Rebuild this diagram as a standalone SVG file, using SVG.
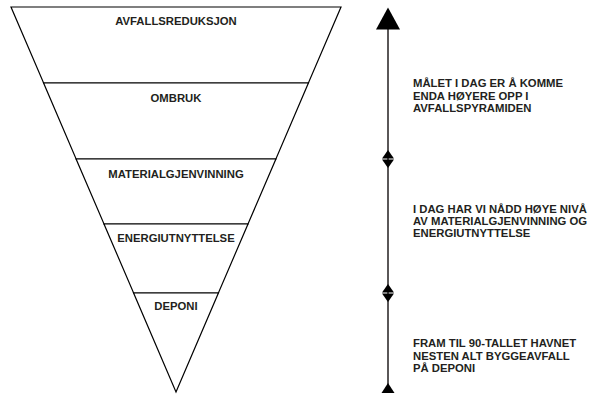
<svg xmlns="http://www.w3.org/2000/svg" width="594" height="395" viewBox="0 0 594 395">
<style>
.layer{fill:#fff;stroke:#000;stroke-width:1.2;stroke-linejoin:miter}
.lbl{font-family:"Liberation Sans",Arial,Helvetica,sans-serif;font-weight:bold;font-size:11.3px;fill:#231f20;text-anchor:middle}
.txt{font-family:"Liberation Sans",Arial,Helvetica,sans-serif;font-weight:bold;font-size:11.3px;fill:#231f20}
.axis{stroke:#231f20;stroke-width:1.5;fill:none}
.head{fill:#000}
</style>
<rect width="594" height="395" fill="#fff"/>
<g id="avfallsreduksjon">
<polygon class="layer" points="11,7 341,7 308.4,83 43.6,83"/>
<text class="lbl" x="176" y="25">AVFALLSREDUKSJON</text>
</g>
<g id="ombruk">
<polygon class="layer" points="43.6,83 308.4,83 275.9,159 76.1,159"/>
<text class="lbl" x="176" y="102">OMBRUK</text>
</g>
<g id="materialgjenvinning">
<polygon class="layer" points="76.1,159 275.9,159 248,224 104,224"/>
<text class="lbl" x="176" y="178">MATERIALGJENVINNING</text>
</g>
<g id="energiutnyttelse">
<polygon class="layer" points="104,224 248,224 218.4,293 133.6,293"/>
<text class="lbl" x="176" y="242">ENERGIUTNYTTELSE</text>
</g>
<g id="deponi">
<polygon class="layer" points="133.6,293 218.4,293 176,392"/>
<text class="lbl" x="176" y="310">DEPONI</text>
</g>
<g id="connectors">
<line class="axis" x1="388" y1="28" x2="388" y2="388"/>
<polygon class="head" points="388,7.5 376,29.5 400,29.5"/>
<polygon class="head" points="388,150 382,158.6 394,158.6"/>
<polygon class="head" points="388,168 382,159.4 394,159.4"/>
<polygon class="head" points="388,284 382,292.6 394,292.6"/>
<polygon class="head" points="388,302 382,293.4 394,293.4"/>
<polygon class="head" points="388,383 381.5,393 394.5,393"/>
</g>
<g id="note-top">
<text class="txt" x="413" y="87.3">MÅLET I DAG ER Å KOMME</text>
<text class="txt" x="413" y="99.6">ENDA HØYERE OPP I</text>
<text class="txt" x="413" y="111.9">AVFALLSPYRAMIDEN</text>
</g>
<g id="note-middle">
<text class="txt" x="413" y="212.7">I DAG HAR VI NÅDD HØYE NIVÅ</text>
<text class="txt" x="413" y="225">AV MATERIALGJENVINNING OG</text>
<text class="txt" x="413" y="237.3">ENERGIUTNYTTELSE</text>
</g>
<g id="note-bottom">
<text class="txt" x="413" y="347.3">FRAM TIL 90-TALLET HAVNET</text>
<text class="txt" x="413" y="359.6">NESTEN ALT BYGGEAVFALL</text>
<text class="txt" x="413" y="371.9">PÅ DEPONI</text>
</g>
</svg>
